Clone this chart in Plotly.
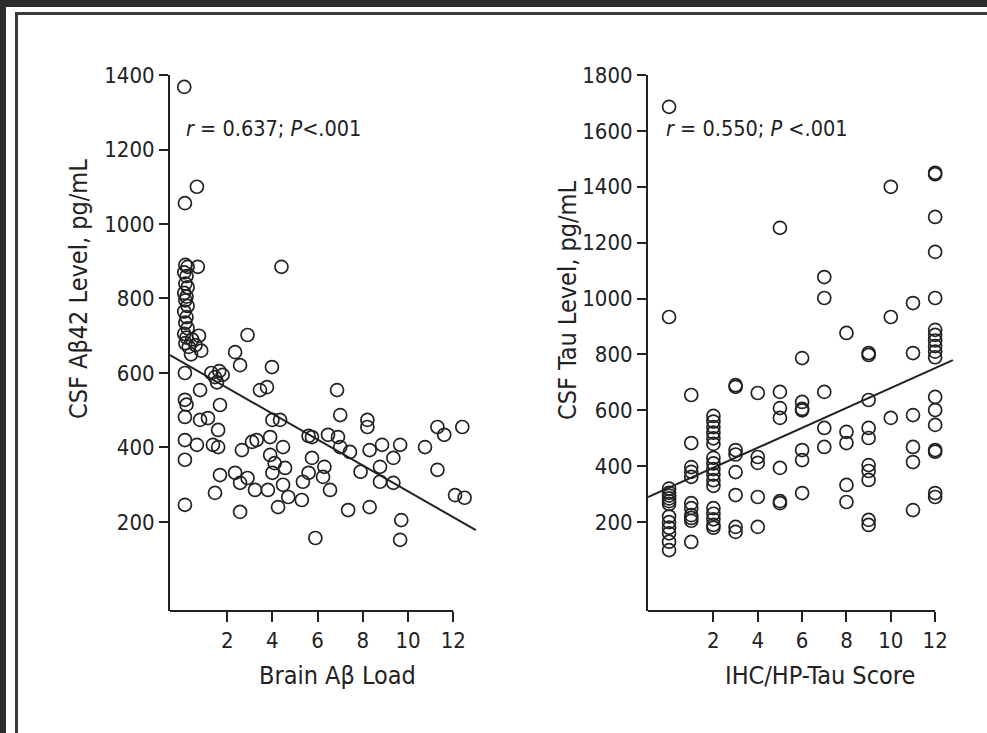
import plotly.graph_objects as go

# ---------------- data ----------------
# Left panel: Brain Aβ load vs CSF Aβ42
left_x = [0.10, 0.66, 0.13,
          0.15, 0.25, 0.10, 0.20, 0.15, 0.25, 0.10, 0.20, 0.15, 0.25, 0.10, 0.20, 0.15, 0.25, 0.10, 0.20, 0.15, 0.30,
          0.70, 4.40, 2.90, 2.35,
          0.45, 0.60, 0.85, 0.40, 0.75,
          2.57, 3.98, 0.13,
          1.46, 1.30, 1.65, 1.55, 1.80,
          0.80, 3.45, 3.76, 6.86, 0.13, 0.20, 1.68,
          0.13, 0.80, 1.15, 1.60, 4.00, 4.34, 7.00, 8.20, 8.20,
          0.13, 0.66, 1.37, 1.60, 2.65, 3.10, 3.30, 3.90, 4.47,
          5.60, 5.75, 6.46, 6.90, 7.00, 7.43,
          8.30, 8.85, 9.65, 10.75, 11.30, 11.60, 12.40,
          0.13, 3.90, 4.10, 4.56, 4.00, 5.75, 6.30, 7.90, 8.76, 9.35, 11.30,
          1.68, 2.35, 2.90, 2.57, 3.23, 3.80, 4.47, 5.35, 5.60, 6.24, 6.55, 8.76, 9.35,
          1.46, 4.70, 5.30, 4.25, 7.35, 8.30, 2.57, 0.13,
          12.08, 12.50,
          9.70, 9.65, 5.90]
left_y = [1368, 1100, 1056,
          890, 885, 870, 860, 840, 830, 815, 805, 795, 780, 765, 750, 735, 720, 705, 695, 680, 670,
          885, 885, 702, 656,
          690, 675, 660, 650, 700,
          621, 616, 600,
          589, 600, 605, 575, 595,
          554, 554, 562, 554, 528, 515, 514,
          482, 474, 479, 447, 474, 474, 487, 474, 455,
          420, 407, 407, 401, 393, 415, 420, 428, 401,
          431, 428, 434, 428, 401, 388,
          393, 407, 407, 401, 455, 434, 455,
          367, 380, 358, 345, 332, 372, 348, 335, 348, 372, 340,
          326, 332, 318, 305, 286, 286, 300, 308, 332, 321, 286, 308, 305,
          278, 267, 259, 240, 232, 240, 227, 246,
          272, 265,
          205, 152, 157]
left_fit_x = [-0.53, 13.0]
left_fit_y = [648, 178]

# Right panel: IHC/HP-Tau score vs CSF tau
right_x = ([0] * 14 + [1] * 11 + [2] * 17 + [3] * 8 + [4] * 5 + [5] * 7 + [6] * 7
           + [7] * 5 + [8] * 5 + [9] * 10 + [10] * 3 + [11] * 6 + [12] * 18)
right_y = [1686, 934, 320, 305, 295, 285, 275, 265, 220, 200, 180, 160, 130, 100,
           655, 483, 397, 380, 362, 268, 250, 225, 215, 205, 129,
           580, 560, 540, 520, 500, 480, 430, 410, 390, 370, 350, 330, 250, 230, 210, 190, 180,
           684, 690, 458, 442, 379, 297, 183, 165,
           662, 433, 412, 290, 183,
           1253, 666, 608, 573, 394, 268, 275,
           787, 630, 605, 600, 458, 422, 304,
           1077, 1002, 666, 537, 469,
           877, 523, 483, 333, 272,
           805, 798, 637, 537, 501, 404, 383, 351, 208, 190,
           1400, 934, 573,
           984, 805, 583, 469, 415, 243,
           1450, 1445, 1292, 1167, 1002, 888, 870, 850, 830, 810, 790, 648, 601, 548, 458, 452, 304, 290]
right_fit_x = [-0.95, 12.8]
right_fit_y = [290, 780]

left_yticks = [200, 400, 600, 800, 1000, 1200, 1400]
right_yticks = [200, 400, 600, 800, 1000, 1200, 1400, 1600, 1800]
xticks = [2, 4, 6, 8, 10, 12]

left_xtitle = "Brain Aβ Load"
left_ytitle = "CSF Aβ42 Level, pg/mL"
right_xtitle = "IHC/HP-Tau Score"
right_ytitle = "CSF Tau Level, pg/mL"
left_stat = "<i>r</i> = 0.637; <i>P</i><.001"
right_stat = "<i>r</i> = 0.550; <i>P</i> <.001"

# ---------------- style ----------------
W, H = 987, 733
INK = "#222222"
FONT = "Liberation Sans Narrow, Arial Narrow, DejaVu Sans Condensed, sans-serif"

def px_x(p):
    return p / W

def px_y(p):
    return 1 - p / H

fig = go.Figure()

mk = dict(symbol="circle-open", size=13, color=INK, line=dict(width=1.7, color=INK))
fig.add_trace(go.Scatter(x=left_x, y=left_y, mode="markers", marker=mk,
                         cliponaxis=False, xaxis="x", yaxis="y", showlegend=False))
fig.add_trace(go.Scatter(x=left_fit_x, y=left_fit_y, mode="lines",
                         line=dict(color=INK, width=2), xaxis="x", yaxis="y", showlegend=False))
fig.add_trace(go.Scatter(x=right_x, y=right_y, mode="markers", marker=mk,
                         cliponaxis=False, xaxis="x2", yaxis="y2", showlegend=False))
fig.add_trace(go.Scatter(x=right_fit_x, y=right_fit_y, mode="lines",
                         line=dict(color=INK, width=2), xaxis="x2", yaxis="y2", showlegend=False))

xl_range = [-0.53, 13.05]
xr_range = [-0.95, 12.85]

common_x = dict(showline=False, showgrid=False, zeroline=False, ticks="outside",
                ticklen=10, tickwidth=2, tickcolor=INK, tickvals=xticks, automargin=False,
                tickfont=dict(family=FONT, size=22, color=INK))
common_y = dict(showline=True, linecolor=INK, linewidth=2, showgrid=False, zeroline=False,
                ticks="outside", ticklen=9, tickwidth=2, tickcolor=INK, automargin=False,
                tickfont=dict(family=FONT, size=22, color=INK))

fig.update_layout(
    template="none",
    width=W, height=H,
    margin=dict(l=0, r=0, t=0, b=0, pad=0),
    paper_bgcolor="#2c2c2c", plot_bgcolor="rgba(0,0,0,0)",
    xaxis=dict(domain=[px_x(170), px_x(477)], range=xl_range, anchor="y", **common_x),
    yaxis=dict(domain=[px_y(611), px_y(75)], range=[-39, 1400], anchor="x",
               tickvals=left_yticks, **common_y),
    xaxis2=dict(domain=[px_x(648), px_x(954)], range=xr_range, anchor="y2", **common_x),
    yaxis2=dict(domain=[px_y(611), px_y(75)], range=[-118, 1800], anchor="x2",
                tickvals=right_yticks, **common_y),
)

shapes = [
    # white page
    dict(type="rect", xref="paper", yref="paper", x0=px_x(6), x1=1.05, y0=-0.05, y1=px_y(7),
         fillcolor="white", line=dict(width=0), layer="below"),
    # frame lines
    dict(type="line", xref="paper", yref="paper", x0=px_x(16.5), x1=px_x(16.5), y0=-0.05, y1=px_y(12),
         line=dict(color="#3a3a3a", width=3), layer="below"),
    dict(type="line", xref="paper", yref="paper", x0=px_x(15), x1=1.05, y0=px_y(13.5), y1=px_y(13.5),
         line=dict(color="#3a3a3a", width=3), layer="below"),
    # x axis lines ending at 12
    dict(type="line", xref="x", yref="y domain", x0=xl_range[0], x1=12, y0=0, y1=0,
         line=dict(color=INK, width=2)),
    dict(type="line", xref="x2", yref="y2 domain", x0=xr_range[0], x1=12, y0=0, y1=0,
         line=dict(color=INK, width=2)),
]
fig.update_layout(shapes=shapes)

def ann(text, x, y, size, angle=0, xanchor="center"):
    return dict(text=text, x=px_x(x), y=px_y(y), xref="paper", yref="paper",
                showarrow=False, textangle=angle, xanchor=xanchor, yanchor="middle",
                font=dict(family=FONT, size=size, color=INK))

fig.update_layout(annotations=[
    ann(left_stat, 184, 128, 21.5, xanchor="left"),
    ann(right_stat, 664, 128, 21.5, xanchor="left"),
    ann(left_xtitle, 337, 675, 25),
    ann(right_xtitle, 820, 675, 25),
    ann(left_ytitle, 79, 289, 25, angle=-90),
    ann(right_ytitle, 567, 300, 25, angle=-90),
])

fig.write_html("out.html")
